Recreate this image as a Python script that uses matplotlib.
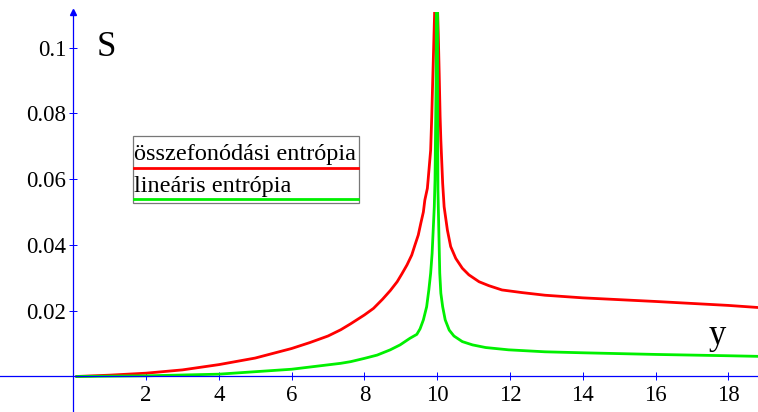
import matplotlib
matplotlib.use("Agg")
import matplotlib.pyplot as plt
from matplotlib.patches import Rectangle
from matplotlib.lines import Line2D

plt.rcParams['font.family'] = ['Liberation Serif', 'DejaVu Serif']

# values
red_x = [0.1, 1, 2, 3, 4, 5, 6, 6.5, 7, 7.35, 7.62, 8, 8.25, 8.5, 8.71, 8.9,
         9.03, 9.17, 9.30, 9.39, 9.48, 9.55, 9.62, 9.66, 9.73, 9.75, 9.82,
         9.85, 9.875, 9.90, 9.93, 9.97, 10.0, 10.03, 10.055, 10.08, 10.1,
         10.15, 10.19, 10.28, 10.37, 10.51, 10.69, 10.87, 11.15, 11.42, 11.78,
         12.33, 12.96, 14, 16, 18, 18.9]
red_y = [0, 0.0004, 0.001, 0.002, 0.0036, 0.0056, 0.0085, 0.0103, 0.0123,
         0.0142, 0.0160, 0.0187, 0.0207, 0.0235, 0.0261, 0.0288, 0.0312,
         0.0339, 0.0369, 0.040, 0.043, 0.0466, 0.050, 0.0536, 0.0572, 0.0597,
         0.0688, 0.079, 0.0892, 0.099, 0.111, 0.14, 0.115, 0.104, 0.092,
         0.079, 0.0719, 0.0587, 0.0516, 0.0445, 0.0395, 0.0359, 0.0329,
         0.0309, 0.0288, 0.0276, 0.0263, 0.0255, 0.0247, 0.0239, 0.0228,
         0.0216, 0.0209]

green_x = [0.1, 2, 4, 6, 7.35, 7.62, 8, 8.35, 8.71, 8.98, 9.25, 9.44, 9.53,
           9.62, 9.71, 9.77, 9.82, 9.86, 9.89, 9.92, 9.94, 9.97, 10.0, 10.01,
           10.02, 10.04, 10.07, 10.1, 10.15, 10.22, 10.33, 10.46, 10.69, 10.97,
           11.33, 11.96, 12.96, 14, 16, 18, 18.9]
green_y = [0, 0.0002, 0.0007, 0.0022, 0.0040, 0.0045, 0.0055, 0.0065, 0.0081,
           0.0096, 0.0116, 0.0128, 0.0145, 0.0172, 0.0212, 0.0263, 0.0314,
           0.0374, 0.0445, 0.0516, 0.0597, 0.09, 0.2, 0.09, 0.0567, 0.0466,
           0.0314, 0.0253, 0.0212, 0.0172, 0.0141, 0.0123, 0.0106, 0.0096,
           0.0088, 0.0081, 0.0075, 0.0072, 0.0067, 0.0063, 0.0061]

xticks = [2, 4, 6, 8, 10, 12, 14, 16, 18]
yticks = [0.02, 0.04, 0.06, 0.08, 0.1]
ytick_labels = ['0.02', '0.04', '0.06', '0.08', '0.1']
labels = ['összefonódási entrópia', 'lineáris entrópia']

W, H = 758, 412
fig = plt.figure(figsize=(W / 100, H / 100), dpi=100)
ax = fig.add_axes([0, 0, 1, (H - 12) / H])

red = '#ff0000'
green = '#00f000'
ax.plot(red_x, red_y, color=red, lw=2.0, solid_joinstyle='round')
ax.plot(green_x, green_y, color=green, lw=2.0, solid_joinstyle='round')

ax.set_xlim(-2.011, 18.813)
ax.set_ylim(-0.0108, 0.1108)

blue = '#0000ff'
for s in ['top', 'right']:
    ax.spines[s].set_visible(False)
ax.spines['left'].set_position(('data', 0))
ax.spines['bottom'].set_position(('data', 0))
ax.spines['left'].set_color(blue)
ax.spines['bottom'].set_color(blue)
ax.spines['left'].set_linewidth(0.9)
ax.spines['bottom'].set_linewidth(0.9)

ax.set_xticks(xticks)
ax.set_xticklabels([str(t) for t in xticks])
ax.set_yticks(yticks)
ax.set_yticklabels(ytick_labels)
ax.tick_params(axis='both', direction='inout', length=6, width=0.7,
               color=blue, labelsize=16.5, pad=2)
ax.tick_params(axis='x', pad=3)

# arrow on top of the vertical axis
ax.plot(0, 1, marker='^', color=blue, markersize=4,
        transform=ax.get_xaxis_transform(), clip_on=False)

ax.text(0.65, 0.1, 'S', fontsize=25, ha='left', va='center')
ax.text(17.7, 0.0125, 'y', fontsize=25, ha='center', va='center')

# legend box drawn by hand
def fx(px):
    return px / W

def fy(py):
    return 1 - py / H

fig.patches.append(Rectangle((fx(133), fy(203.3)), fx(359) - fx(133),
                             fy(136) - fy(203.3), transform=fig.transFigure,
                             facecolor='white', edgecolor='#777777', lw=0.9,
                             zorder=5))
fig.text(fx(134), fy(160), labels[0], fontsize=17.5, ha='left',
         va='baseline', zorder=6)
fig.lines.append(Line2D([fx(134), fx(358)], [fy(167.7), fy(167.7)],
                        transform=fig.transFigure, color=red, lw=2.0,
                        zorder=6))
fig.text(fx(134), fy(192), labels[1], fontsize=17.5, ha='left',
         va='baseline', zorder=6)
fig.lines.append(Line2D([fx(134), fx(358)], [fy(198.7), fy(198.7)],
                        transform=fig.transFigure, color=green, lw=2.0,
                        zorder=6))

fig.savefig('out.png', dpi=100)
